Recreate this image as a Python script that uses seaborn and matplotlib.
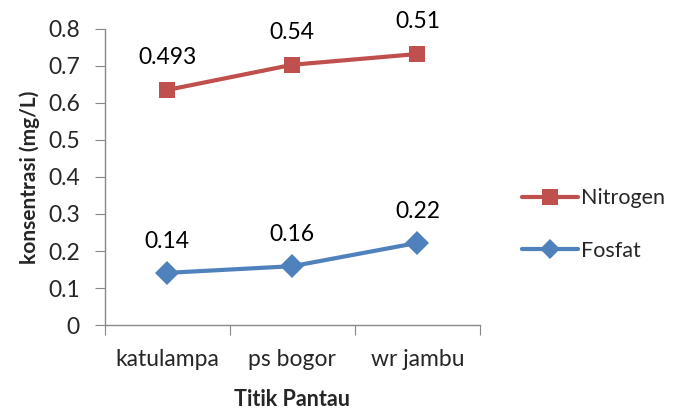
import matplotlib
matplotlib.use("Agg")
import matplotlib.pyplot as plt
import seaborn as sns
import pandas as pd
from matplotlib.lines import Line2D

categories = ["katulampa", "ps bogor", "wr jambu"]
nitrogen = [0.635, 0.703, 0.732]
fosfat = [0.141, 0.159, 0.222]
nitrogen_labels = ["0.493", "0.54", "0.51"]
fosfat_labels = ["0.14", "0.16", "0.22"]
yticks = [0, 0.1, 0.2, 0.3, 0.4, 0.5, 0.6, 0.7, 0.8]
ytick_labels = ["0", "0.1", "0.2", "0.3", "0.4", "0.5", "0.6", "0.7", "0.8"]

sns.set_style("white")
plt.rcParams["font.family"] = ["Lato", "DejaVu Sans"]

df = pd.DataFrame({
    "pos": list(range(len(categories))) * 2,
    "value": nitrogen + fosfat,
    "series": ["Nitrogen"] * 3 + ["Fosfat"] * 3,
})

red = "#C0504D"
blue = "#4F81BD"
fs = 16.5

fig = plt.figure(figsize=(6.76, 4.12), dpi=100)
ax = fig.add_axes([0.155, 0.211, 0.555, 0.719])

sns.lineplot(data=df, x="pos", y="value", hue="series", style="series",
             palette={"Nitrogen": red, "Fosfat": blue},
             markers={"Nitrogen": "s", "Fosfat": "D"}, dashes=False,
             markersize=12, linewidth=3, markeredgewidth=0,
             legend=False, ax=ax)

for i, (v, lab) in enumerate(zip(nitrogen, nitrogen_labels)):
    ax.annotate(lab, (i, v), xytext=(0, 16), textcoords="offset points",
                ha="center", va="bottom", fontsize=fs, color="black")
for i, (v, lab) in enumerate(zip(fosfat, fosfat_labels)):
    ax.annotate(lab, (i, v), xytext=(0, 15), textcoords="offset points",
                ha="center", va="bottom", fontsize=fs, color="black")

ax.set_xlim(-0.5, 2.5)
ax.set_ylim(0, 0.8)
ax.set_yticks(yticks)
ax.set_yticklabels(ytick_labels, fontsize=fs)
ax.set_xticks([-0.5, 0.5, 1.5, 2.5])
ax.set_xticklabels([])
ax.set_xticks(range(len(categories)), minor=True)
ax.set_xticklabels(categories, minor=True, fontsize=fs)
ax.tick_params(axis="x", which="minor", length=0, pad=17)
ax.tick_params(axis="x", which="major", length=7, color="#888888", direction="out", bottom=True)
ax.tick_params(axis="y", length=7, color="#888888", direction="out", left=True, pad=11)

for s in ["top", "right"]:
    ax.spines[s].set_visible(False)
for s in ["left", "bottom"]:
    ax.spines[s].set_color("#888888")
    ax.spines[s].set_linewidth(1)

ax.set_xlabel("Titik Pantau", fontsize=15.5, fontweight="bold", labelpad=14)
ax.set_ylabel("konsentrasi (mg/L)", fontsize=15, fontweight="bold", labelpad=6)

handles = [
    Line2D([], [], color=red, marker="s", markersize=12, linewidth=3, markeredgewidth=0),
    Line2D([], [], color=blue, marker="D", markersize=10, linewidth=3, markeredgewidth=0),
]
fig.legend(handles, ["Nitrogen", "Fosfat"], loc="center left",
           bbox_to_anchor=(0.772, 0.455), frameon=False, fontsize=15.5,
           borderaxespad=0, borderpad=0,
           handlelength=2.6, handletextpad=0.15, labelspacing=1.5)

fig.savefig("out.png", dpi=100)
